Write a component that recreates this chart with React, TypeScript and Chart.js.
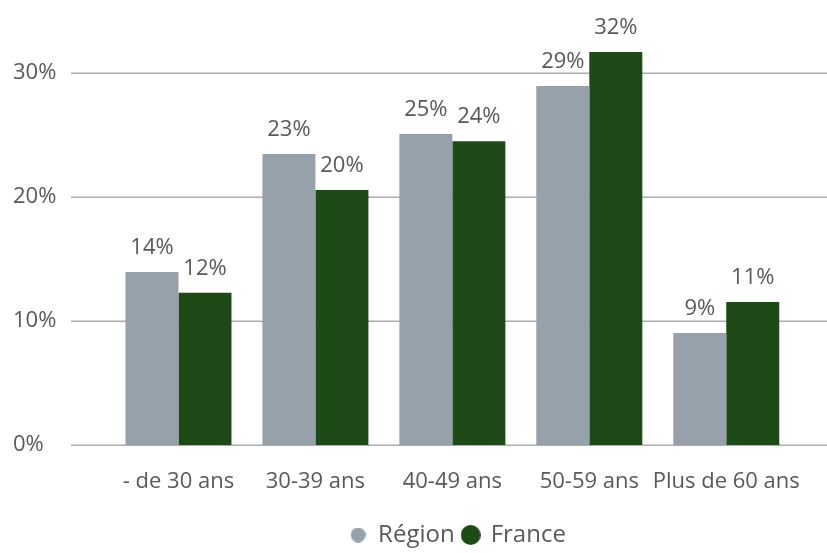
import React, { useEffect, useRef } from "react";
import { Chart, registerables } from "chart.js";

Chart.register(...registerables);

const categories = ["- de 30 ans", "30-39 ans", "40-49 ans", "50-59 ans", "Plus de 60 ans"];
const regionValues = [13.95, 23.47, 25.08, 28.95, 9.03];
const franceValues = [12.27, 20.56, 24.5, 31.7, 11.53];
const regionLabels = ["14%", "23%", "25%", "29%", "9%"];
const franceLabels = ["12%", "20%", "24%", "32%", "11%"];
const seriesNames = ["Région", "France"];
const yTickValues = [0, 10, 20, 30];

const REGION_COLOR = "#97A1AB";
const FRANCE_COLOR = "#1D4A17";
const TEXT_COLOR = "#595959";
const GRID_COLOR = "#A7AEB5";
const FONT = "'Open Sans', 'Noto Sans', sans-serif";

function makeDot(color: string, size: number) {
  const c = document.createElement("canvas");
  c.width = size;
  c.height = size;
  const ctx = c.getContext("2d")!;
  ctx.fillStyle = color;
  ctx.beginPath();
  ctx.arc(size / 2, size / 2, size / 2, 0, Math.PI * 2);
  ctx.fill();
  return c;
}

export default function App() {
  const ref = useRef<HTMLCanvasElement | null>(null);

  useEffect(() => {
    document.body.style.margin = "0";
    const canvas = ref.current;
    if (!canvas) return;

    const dots = [makeDot(REGION_COLOR, 15), makeDot(FRANCE_COLOR, 20)];
    const valueLabels = [regionLabels, franceLabels];

    const gridPlugin = {
      id: "wideGrid",
      beforeDatasetsDraw(chart: any) {
        const { ctx } = chart;
        const y = chart.scales.y;
        ctx.save();
        ctx.strokeStyle = GRID_COLOR;
        ctx.lineWidth = 1.5;
        yTickValues.forEach((v) => {
          const py = Math.round(y.getPixelForValue(v)) + 0.25;
          ctx.beginPath();
          ctx.moveTo(71, py);
          ctx.lineTo(chart.width, py);
          ctx.stroke();
        });
        ctx.restore();
      },
    };

    const labelPlugin = {
      id: "valueLabels",
      afterDatasetsDraw(chart: any) {
        const { ctx } = chart;
        ctx.save();
        ctx.fillStyle = TEXT_COLOR;
        ctx.font = `22px ${FONT}`;
        ctx.textAlign = "center";
        ctx.textBaseline = "alphabetic";
        chart.data.datasets.forEach((_: any, di: number) => {
          const meta = chart.getDatasetMeta(di);
          meta.data.forEach((el: any, i: number) => {
            ctx.fillText(valueLabels[di][i], el.x, el.y - 18);
          });
        });
        ctx.restore();
      },
    };

    const legendShift = {
      id: "legendShift",
      afterLayout(chart: any) {
        const lg = chart.legend;
        if (!lg) return;
        const dx = 458 - (lg.left + lg.right) / 2;
        const dy = 4;
        lg.left += dx;
        lg.right += dx;
        lg.top += dy;
        lg.bottom += dy;
      },
    };

    const chart = new Chart(canvas, {
      type: "bar",
      data: {
        labels: categories,
        datasets: [
          {
            label: seriesNames[0],
            data: regionValues,
            backgroundColor: REGION_COLOR,
            categoryPercentage: 0.774,
            barPercentage: 1,
          },
          {
            label: seriesNames[1],
            data: franceValues,
            backgroundColor: FRANCE_COLOR,
            categoryPercentage: 0.774,
            barPercentage: 1,
          },
        ],
      },
      options: {
        responsive: false,
        animation: false,
        layout: { padding: { top: 11, right: 32, left: 13, bottom: 0 } },
        scales: {
          x: {
            grid: { display: false, drawTicks: false },
            border: { display: false },
            ticks: {
              color: TEXT_COLOR,
              font: { family: FONT, size: 22 },
              padding: 24,
              maxRotation: 0,
              autoSkip: false,
            },
            afterFit(scale: any) {
              scale.height = 66;
            },
          },
          y: {
            min: 0,
            max: 35,
            bounds: "data",
            grid: { display: false, drawTicks: false },
            border: { display: false },
            ticks: {
              stepSize: 10,
              color: TEXT_COLOR,
              font: { family: FONT, size: 22 },
              padding: 0,
              crossAlign: "far",
              callback: (v: any) => `${v}%`,
            },
            afterBuildTicks(scale: any) {
              scale.ticks = yTickValues.map((v) => ({ value: v }));
            },
            afterFit(scale: any) {
              scale.width = 97;
              scale.paddingTop = 0;
              scale.paddingBottom = 0;
            },
          },
        },
        plugins: {
          tooltip: { enabled: false },
          legend: {
            position: "bottom",
            labels: {
              usePointStyle: true,
              boxWidth: 16,
              boxHeight: 16,
              padding: 8,
              color: TEXT_COLOR,
              font: { family: FONT, size: 24 },
              generateLabels(ch: any) {
                const base = Chart.defaults.plugins.legend.labels.generateLabels(ch);
                return base.map((l: any, i: number) => ({ ...l, pointStyle: dots[i] }));
              },
            },
          },
        },
      },
      plugins: [gridPlugin, labelPlugin, legendShift],
    });

    return () => chart.destroy();
  }, []);

  return (
    <div style={{ width: 827, height: 553, background: "#fff" }}>
      <canvas ref={ref} width={827} height={553} />
    </div>
  );
}
